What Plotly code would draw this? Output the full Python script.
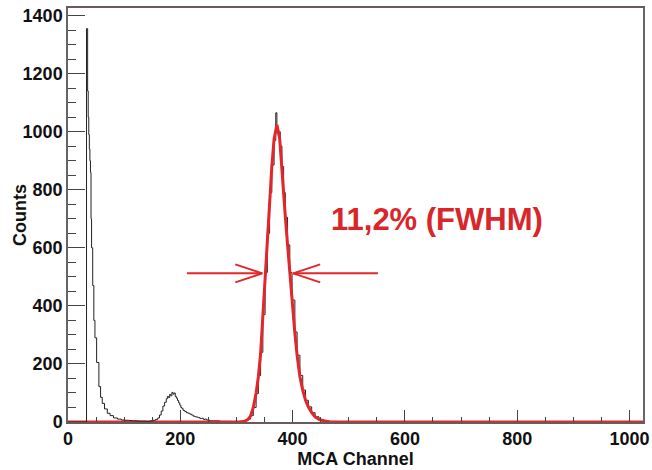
import plotly.graph_objects as go

# ---------------- data ----------------
# low-energy part of the measured spectrum (black histogram)
low_channels = [0, 33, 35, 36, 37, 38, 39, 40, 41, 42, 44, 46, 48, 51, 55, 58, 61, 65, 70, 75,
                81, 88, 95, 100, 108, 115, 124, 132, 140, 146, 152, 156, 160, 163, 166, 169,
                172, 175, 177, 179, 181, 183, 185, 187, 189, 191, 193, 195, 197, 199, 201,
                203, 205, 208, 211, 214, 217, 220, 223, 226, 229, 232, 235, 238, 241, 244,
                247, 250, 253]
low_counts = [0, 1355, 1140, 1050, 990, 940, 900, 860, 700, 600, 470, 350, 290, 205, 122, 85,
              64, 45, 30, 22, 14, 10, 7, 6, 5, 4, 3, 3, 2, 4, 6, 9, 14, 24, 38, 55, 68, 80, 88,
              84, 95, 90, 102, 96, 100, 88, 82, 74, 66, 58, 50, 46, 40, 36, 32, 30, 27, 24, 20,
              18, 17, 15, 12, 13, 9, 10, 7, 6, 5]

# photo-peak part of the measured spectrum (black, mostly hidden by the fit)
peak_channels = [253, 270, 290, 305, 315, 320, 325, 330, 335, 339, 343, 347, 351, 355, 359,
                 363, 367, 370, 372, 375, 378, 381, 384, 387, 391, 395, 399, 404, 408, 413,
                 418, 423, 428, 434, 440, 447, 455, 465, 480]
peak_counts = [4, 2, 1, 2, 5, 10, 22, 50, 98, 160, 240, 370, 515, 650, 790, 885, 970, 1065,
               1010, 1000, 950, 880, 790, 705, 610, 515, 420, 310, 230, 160, 110, 75, 52, 32,
               18, 9, 4, 2, 1]

# fitted peak (red curve)
fit_channels = [0, 305, 315, 320, 325, 330, 335, 339, 343, 347, 351, 355, 359, 363, 367, 372,
                377, 381, 384, 387, 391, 395, 399, 404, 408, 413, 418, 423, 428, 434, 440,
                447, 455, 465, 480, 1024]
fit_counts = [0, 0, 3, 8, 20, 50, 100, 156, 235, 365, 513, 640, 780, 880, 975, 1024, 975, 880,
              800, 708, 610, 513, 415, 306, 230, 156, 110, 75, 52, 32, 18, 9, 4, 1, 0, 0]

# FWHM arrows (channel positions of shafts)
arrow_left_x = [212, 346]
arrow_right_x = [552, 401]
fwhm_label = "11,2% (FWHM)"

x_ticks = [0, 200, 400, 600, 800, 1000]
y_ticks = [0, 200, 400, 600, 800, 1000, 1200, 1400]

# ---------------- figure ----------------
W, H = 652, 470
ML, MR, MT, MB = 68, 9, 8, 48
XMAX, YMAX = 1024, 1426
plot_w = W - ML - MR
px_per_ch = plot_w / XMAX
px_per_cnt = (H - MT - MB) / YMAX

RED = "#e3262a"
fig = go.Figure()

fig.add_trace(go.Scatter(x=peak_channels, y=peak_counts, mode="lines",
                         line=dict(color="#222222", width=1, shape="hv"),
                         hoverinfo="skip", showlegend=False))
fig.add_trace(go.Scatter(x=fit_channels, y=fit_counts, mode="lines",
                         line=dict(color=RED, width=3),
                         hoverinfo="skip", showlegend=False))
fig.add_trace(go.Scatter(x=low_channels, y=low_counts, mode="lines",
                         line=dict(color="#222222", width=1, shape="hv"),
                         hoverinfo="skip", showlegend=False))

# FWHM arrows
half_max = max(fit_counts) / 2
head_len = 27 / px_per_ch
head_half = 9 / px_per_cnt
for xs in (arrow_left_x, arrow_right_x):
    x0, x1 = xs
    d = 1 if x1 > x0 else -1
    fig.add_trace(go.Scatter(x=[x0, x1], y=[half_max, half_max], mode="lines",
                             line=dict(color=RED, width=2), hoverinfo="skip",
                             showlegend=False))
    fig.add_trace(go.Scatter(x=[x1 - d * head_len, x1, x1 - d * head_len],
                             y=[half_max + head_half, half_max, half_max - head_half],
                             mode="lines", line=dict(color=RED, width=2),
                             hoverinfo="skip", showlegend=False))

fig.add_annotation(x=657, y=696, xref="x", yref="y", text=fwhm_label, showarrow=False,
                   font=dict(family="Liberation Sans", size=31, color="#d8262b",
                             weight="bold"))

tick_font = dict(family="Liberation Sans", size=18, color="#111111", weight="bold")
title_font = dict(family="Liberation Sans", size=18, color="#111111", weight="bold")

# y-axis title placed as a rotated annotation (sits close to the tick labels)
fig.add_annotation(x=(20 - ML) / plot_w, y=0.5, xref="paper", yref="paper",
                   text="Counts", textangle=-90, showarrow=False,
                   xanchor="center", yanchor="middle", font=title_font)

fig.update_xaxes(range=[0, XMAX], tickvals=x_ticks, ticks="inside", ticklen=12,
                 tickcolor="#444444", tickwidth=1, showgrid=False, zeroline=False,
                 showline=True, mirror=True, linecolor="#6a5a5a", linewidth=1.5,
                 tickfont=tick_font, automargin=False,
                 minor=dict(dtick=50, ticks="inside", ticklen=5, tickcolor="#444444",
                            showgrid=False),
                 title=dict(text="MCA Channel", font=title_font, standoff=2))
fig.update_yaxes(range=[0, YMAX], tickvals=y_ticks, ticks="inside", ticklen=17,
                 tickcolor="#444444", tickwidth=1, showgrid=False, zeroline=False,
                 showline=True, mirror=True, linecolor="#666666", linewidth=1.5,
                 tickfont=tick_font, automargin=False,
                 minor=dict(dtick=50, ticks="inside", ticklen=8, tickcolor="#444444",
                            showgrid=False))

fig.update_layout(width=W, height=H, margin=dict(l=ML, r=MR, t=MT, b=MB),
                  paper_bgcolor="white", plot_bgcolor="white", showlegend=False)

fig.write_html("out.html", config={"displayModeBar": False},
               post_script="document.body.style.margin='0';"
                           "document.body.style.overflow='hidden';")
